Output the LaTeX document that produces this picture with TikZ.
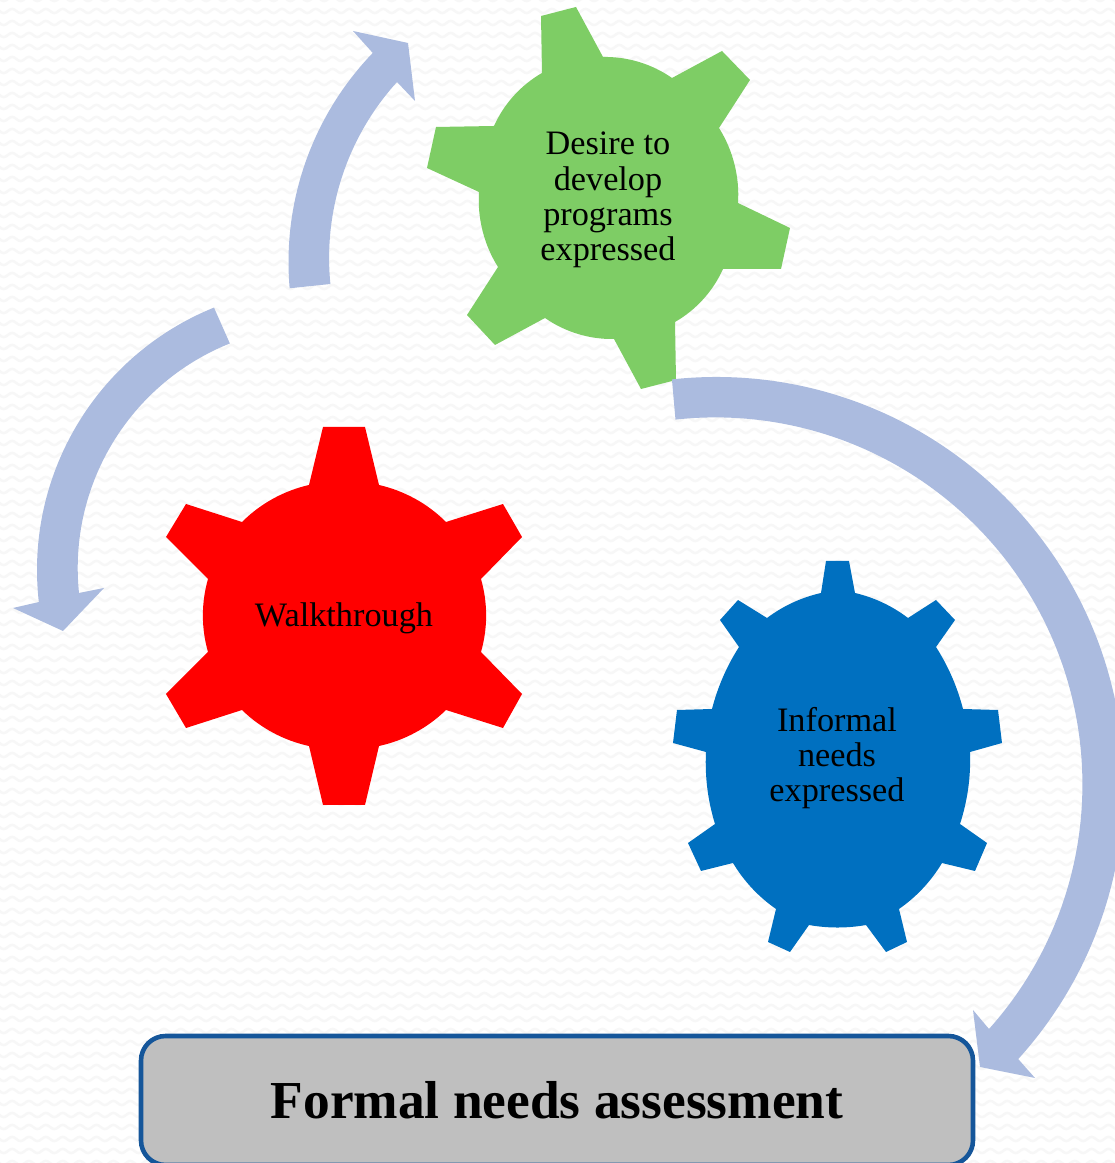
\documentclass[tikz,border=0pt]{standalone}
\usepackage{fontspec}
\setmainfont{Liberation Serif}
\usetikzlibrary{calc,decorations.pathmorphing}

\definecolor{bgwave}{HTML}{F7F7F7}
\definecolor{cyclearrow}{HTML}{ABBBDF}
\definecolor{geargreen}{HTML}{7ECD65}
\definecolor{gearred}{HTML}{FF0000}
\definecolor{gearblue}{HTML}{0070C0}
\definecolor{boxgrey}{HTML}{BFBFBF}
\definecolor{boxedge}{HTML}{15569A}

\begin{document}
\begin{tikzpicture}[
  x=0.02cm,
  y=0.02cm,
  wave/.style={
    draw=bgwave,
    line width=1.4pt,
    decorate,
    decoration={snake,segment length=9.6pt,amplitude=1.2pt}
  },
  rim/.style={
    bend left=#1,
    looseness=0.87
  },
  gearlabel/.style={
    align=center,
    inner sep=0pt,
    text=black,
    font=\fontsize{19.5}{20.1}\selectfont
  },
  assessment/.style={
    rectangle,
    rounded corners=14pt,
    draw=boxedge,
    line width=2.6pt,
    fill=boxgrey,
    inner sep=0pt,
    minimum width=832*0.02cm,
    minimum height=129*0.02cm,
    font=\fontsize{30.4}{32}\selectfont\bfseries
  }
]

\clip (0,0) rectangle (1115,1163);
\fill[white] (0,0) rectangle (1115,1163);

% Background
\foreach \rowy in {0,12,...,1164}
  \path[wave] (-10,\rowy) -- (1125,\rowy);

% Gears
\fill[geargreen] (541,1147) -- (576,1156) -- (603,1106) to[rim=18] (672,1085)
  -- (722,1112) -- (750,1083) -- (719,1035) to[rim=18] (738,960)
  -- (790,935) -- (781,894) -- (723,894) to[rim=18] (675,841)
  -- (676,783) -- (641,774) -- (614,824) to[rim=18] (545,845)
  -- (495,818) -- (467,848) -- (498,896) to[rim=18] (479,971)
  -- (427,995) -- (436,1036) -- (494,1037) to[rim=18] (542,1090) -- cycle;

\fill[gearred] (323,736) -- (365,736) -- (379,678) to[rim=16] (446,641)
  -- (503,659) -- (522,626) -- (481,584) to[rim=16] (481,511)
  -- (522,469) -- (503,435) -- (446,453) to[rim=16] (379,417)
  -- (365,358) -- (323,358) -- (309,417) to[rim=16] (242,453)
  -- (186,435) -- (166,469) -- (208,511) to[rim=16] (208,584)
  -- (166,626) -- (186,659) -- (242,641) to[rim=16] (309,678) -- cycle;

\fill[gearblue] (826,602) -- (849,602) -- (855,570) to[rim=12] (908,545)
  -- (936,563) -- (955,543) -- (936,516) to[rim=9] (963,454)
  -- (998,453) -- (1002,420) -- (970,411) to[rim=10] (960,339)
  -- (987,320) -- (975,292) -- (942,300) to[rim=12] (899,254)
  -- (907,221) -- (886,211) -- (866,238) to[rim=10] (809,238)
  -- (790,211) -- (768,221) -- (776,254) to[rim=12] (733,300)
  -- (701,292) -- (688,320) -- (715,339) to[rim=10] (706,411)
  -- (673,420) -- (677,453) -- (712,454) to[rim=9] (739,516)
  -- (720,543) -- (738,563) -- (767,545) to[rim=12] (821,570) -- cycle;

% Cycle arrows
\coordinate (upc) at (590,901);
\coordinate (leftc) at (320,593);
\coordinate (rightc) at (716,378);

\fill[cyclearrow] ($(upc)+(185:301.5)$) arc[start angle=185,end angle=136.1,radius=301.5]
  -- (353,1132) -- (408,1120) -- (415,1062) -- (397,1081)
  arc[start angle=137.8,end angle=185.7,radius=262] -- cycle;

\fill[cyclearrow] ($(leftc)+(112:283)$) arc[start angle=112,end angle=186.5,radius=283]
  -- (13,555) -- (63,532) -- (104,575) -- (79,570)
  arc[start angle=185.9,end angle=111.8,radius=242] -- cycle;

\fill[cyclearrow] ($(rightc)+(96.2:408)$) arc[start angle=96.2,end angle=-42.2,radius=408]
  -- (1035,85) -- (980,96) -- (973,153) -- (989,134)
  arc[start angle=-41.8,end angle=96.25,radius=367] -- cycle;

% Labels
\node[gearlabel] (desire) at (608,963) {Desire to\\develop\\programs\\expressed};
\node[gearlabel] (walk) at (344,545) {Walkthrough};
\node[gearlabel] (informal) at (837,405) {Informal\\needs\\expressed};

\node[assessment] (formal) at (557,62.5) {Formal needs assessment};

\end{tikzpicture}
\end{document}
